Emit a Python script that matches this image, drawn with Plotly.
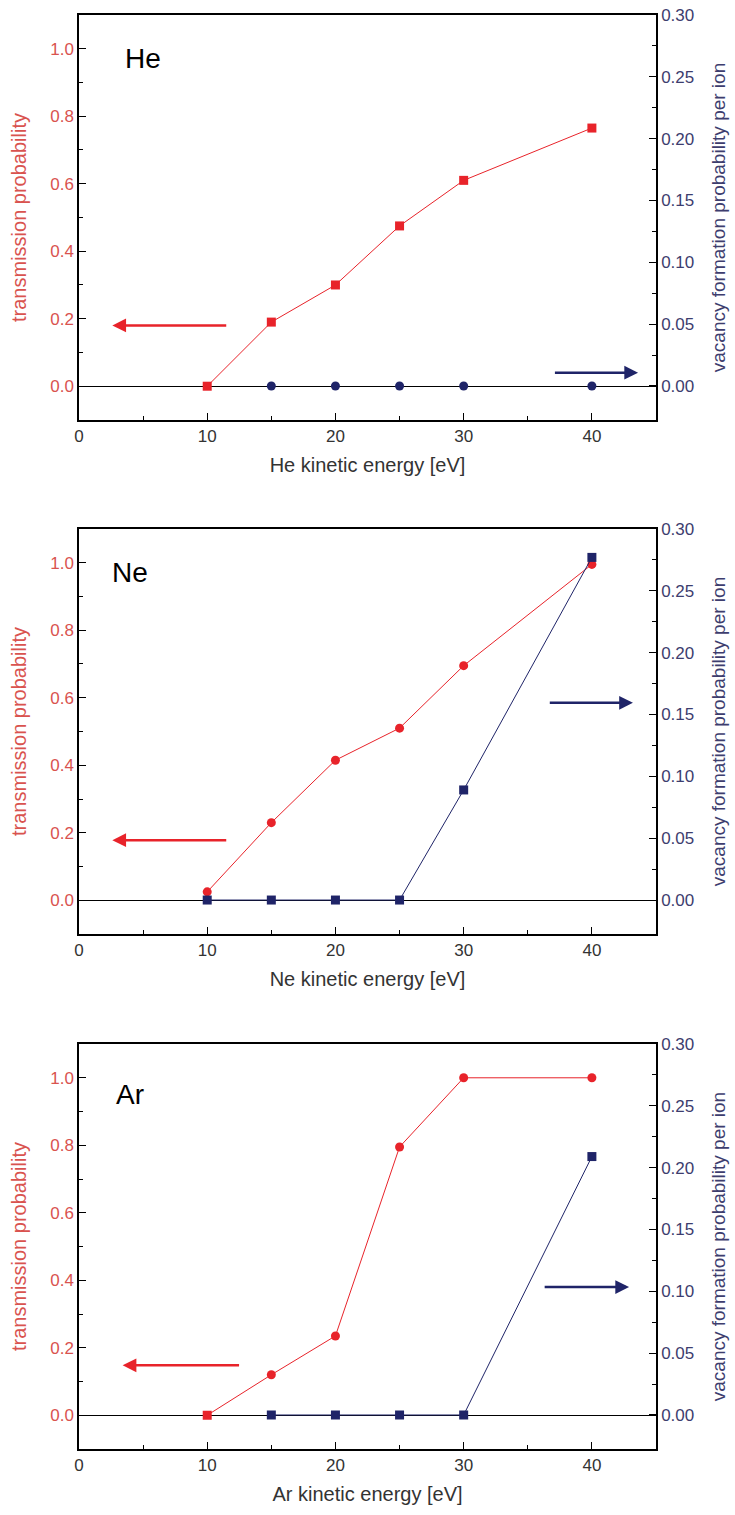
import plotly.graph_objects as go

energy = [10, 15, 20, 25, 30, 40]

he_trans = [0.0, 0.19, 0.30, 0.475, 0.61, 0.765]
he_vac_x = [15, 20, 25, 30, 40]
he_vac = [0.0, 0.0, 0.0, 0.0, 0.0]

ne_trans = [0.025, 0.23, 0.415, 0.51, 0.695, 0.995]
ne_vac_x = [10, 15, 20, 25, 30, 40]
ne_vac = [0.0, 0.0, 0.0, 0.0, 0.089, 0.277]

ar_trans = [0.0, 0.12, 0.235, 0.795, 1.0, 1.0]
ar_vac_x = [15, 20, 25, 30, 40]
ar_vac = [0.0, 0.0, 0.0, 0.0, 0.209]

gases = ["He", "Ne", "Ar"]

RED = "#e8232a"
NAVY = "#1f2468"
REDTXT = "#d9534f"
NAVYTXT = "#3d3d6e"
FONT = "Liberation Sans, Arial, sans-serif"

fig = go.Figure()

domains = [[0.7176, 1.0], [0.3591, 0.6416], [0.0, 0.2824]]
panels = [
    (he_trans, "square", he_vac_x, he_vac, "circle", False),
    (ne_trans, "circle", ne_vac_x, ne_vac, "square", True),
    (ar_trans, ["square", "circle", "circle", "circle", "circle", "circle"], ar_vac_x, ar_vac, "square", True),
]
arrows = [
    # red (x_tail, x_head, y_left), navy (x_tail, x_head, y_left)
    ((11.6, 2.6, 0.18), (37.0, 43.6, 0.04)),
    ((11.6, 2.6, 0.178), (36.6, 43.2, 0.585)),
    ((12.6, 3.4, 0.148), (36.2, 42.9, 0.38)),
]
label_pos = [(5.0, 0.97), (4.0, 0.97), (4.0, 0.95)]

for i, (tr, trsym, vx, vy, vsym, vline) in enumerate(panels):
    n = i + 1
    xa = "x" if n == 1 else f"x{n}"
    yl = f"y{2*n-1}" if n > 1 else "y"
    yr = f"y{2*n}"
    # vacancy (right axis)
    fig.add_trace(go.Scatter(
        x=vx, y=vy, xaxis=xa, yaxis=yr,
        mode="lines+markers" if vline else "markers",
        line=dict(color=NAVY, width=1),
        marker=dict(symbol=vsym, size=9, color=NAVY),
        showlegend=False,
    ))
    # transmission (left axis)
    fig.add_trace(go.Scatter(
        x=energy, y=tr, xaxis=xa, yaxis=yl,
        mode="lines+markers",
        line=dict(color=RED, width=1),
        marker=dict(symbol=trsym, size=9, color=RED),
        showlegend=False,
    ))

    xkey = "xaxis" if n == 1 else f"xaxis{n}"
    ylkey = "yaxis" if n == 1 else f"yaxis{2*n-1}"
    yrkey = f"yaxis{2*n}"
    fig.layout[xkey] = dict(
        domain=[0, 1], anchor=yl, range=[0, 45], automargin=False,
        tickmode="array", tickvals=[0, 10, 20, 30, 40],
        ticks="inside", ticklen=7, tickcolor="black",
        minor=dict(tickvals=[5, 15, 25, 35, 45], ticks="inside", ticklen=4, tickcolor="black"),
        showline=True, linecolor="black", linewidth=1.5, mirror=True,
        showgrid=False, zeroline=False,
        tickfont=dict(family=FONT, size=17, color="#333333"),
        title=dict(text=f"{gases[i]} kinetic energy [eV]",
                   font=dict(family=FONT, size=20, color="#333333"), standoff=13),
    )
    fig.layout[ylkey] = dict(
        domain=domains[i], anchor=xa, range=[-0.1, 1.1], automargin=False,
        tickmode="array", tickvals=[0.0, 0.2, 0.4, 0.6, 0.8, 1.0],
        ticktext=["0.0", "0.2", "0.4", "0.6", "0.8", "1.0"],
        ticks="inside", ticklen=7, tickcolor="black",
        minor=dict(tickvals=[-0.1, 0.1, 0.3, 0.5, 0.7, 0.9], ticks="inside", ticklen=4, tickcolor="black"),
        showline=True, linecolor="black", linewidth=1.5,
        showgrid=False, zeroline=True, zerolinecolor="black", zerolinewidth=1,
        tickfont=dict(family=FONT, size=17, color=REDTXT),
        title=dict(text="transmission probability",
                   font=dict(family=FONT, size=20, color=REDTXT), standoff=18),
    )
    fig.layout[yrkey] = dict(
        overlaying=yl, side="right", anchor=xa, range=[-0.0275, 0.30], automargin=False,
        tickmode="array", tickvals=[0.0, 0.05, 0.10, 0.15, 0.20, 0.25, 0.30],
        ticktext=["0.00", "0.05", "0.10", "0.15", "0.20", "0.25", "0.30"],
        ticks="inside", ticklen=7, tickcolor="black",
        minor=dict(tickvals=[0.025, 0.075, 0.125, 0.175, 0.225, 0.275], ticks="inside", ticklen=4, tickcolor="black"),
        showline=True, linecolor="black", linewidth=1.5,
        showgrid=False, zeroline=False,
        tickfont=dict(family=FONT, size=17, color=NAVYTXT),
        title=dict(text="vacancy formation probability per ion",
                   font=dict(family=FONT, size=19, color=NAVYTXT), standoff=18),
    )

    (rt, rh, ry), (nt, nh, ny) = arrows[i]
    fig.add_annotation(x=rh, y=ry, ax=rt, ay=ry, xref=xa, yref=yl, axref=xa, ayref=yl,
                       text="", showarrow=True, arrowhead=2, arrowsize=1.1,
                       arrowwidth=2.5, arrowcolor=RED)
    fig.add_annotation(x=nh, y=ny, ax=nt, ay=ny, xref=xa, yref=yl, axref=xa, ayref=yl,
                       text="", showarrow=True, arrowhead=2, arrowsize=1.1,
                       arrowwidth=2.5, arrowcolor=NAVY)
    lx, ly = label_pos[i]
    fig.add_annotation(x=lx, y=ly, xref=xa, yref=yl, text=gases[i], showarrow=False,
                       xanchor="center", yanchor="middle",
                       font=dict(family=FONT, size=28, color="black"))

fig.update_layout(
    width=735, height=1515,
    margin=dict(l=79, r=79, t=15, b=66),
    paper_bgcolor="white", plot_bgcolor="white",
)

fig.write_html("out.html")
